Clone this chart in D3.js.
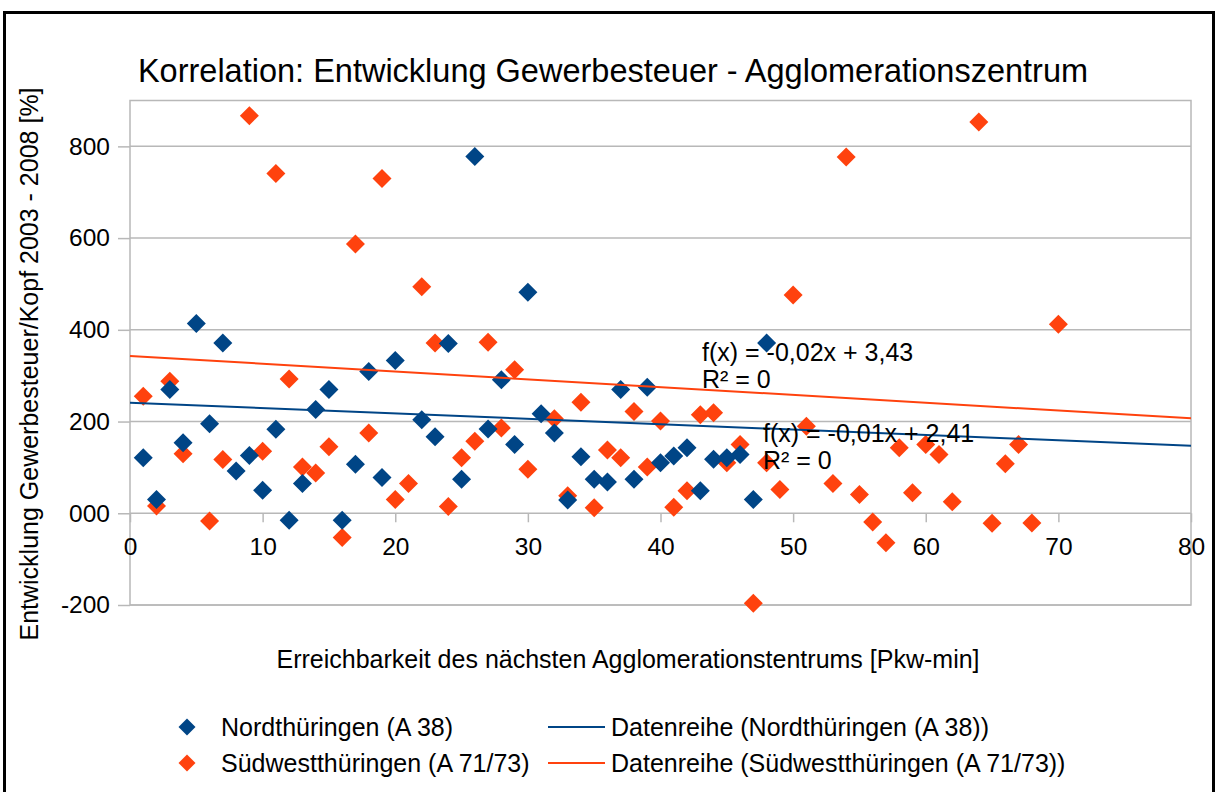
<!DOCTYPE html>
<html>
<head>
<meta charset="utf-8">
<script src="https://cdn.jsdelivr.net/npm/d3@7"></script>
<style>
  body { margin: 0; background: #fff; }
  text { font-family: "Liberation Sans", Arial, sans-serif; fill: #000; }
</style>
</head>
<body>
<div id="chart"></div>
<script>
// values
var nordX = [1,2,3,4,5,6,7,8,9,10,11,12,13,14,15,16,17,18,19,20,22,23,24,25,26,27,28,29,30,31,32,33,34,35,36,37,38,39,40,41,42,43,44,45,46,47,48]
var nordY = [121,30,270,154,414,195,371,92,126,50,183,-15,65,226,270,-15,107,309,78,333,204,167,370,74,778,184,291,150,482,217,175,29,123,74,68,270,74,275,110,125,143,49,118,121,128,30,371]

var suedX = [1,2,3,4,6,7,9,10,11,12,13,14,15,16,17,18,19,20,21,22,23,24,25,26,27,28,29,30,32,33,34,35,36,37,38,39,40,41,42,43,44,45,46,47,48,49,50,51,53,54,55,56,57,58,59,60,61,62,64,65,66,67,68,70]
var suedY = [255,16,288,130,-17,117,867,135,741,293,101,88,145,-53,587,175,730,30,65,494,371,15,121,157,373,186,313,96,206,38,242,12,138,121,222,101,201,13,49,215,219,110,150,-196,110,52,476,190,65,777,41,-19,-64,143,45,150,128,25,853,-22,108,150,-21,412]

// trend lines (intercept, slope in chart units)
var nordTrend = [241, -1.17]
var suedTrend = [343, -1.70]

var xTicks = [0,10,20,30,40,50,60,70,80]
var yTicks = [-200,0,200,400,600,800]
var yTickLabels = ['-200','000','200','400','600','800']

var seriesNames = ['Nordthüringen (A 38)', 'Südwestthüringen (A 71/73)']
var trendNames = ['Datenreihe (Nordthüringen (A 38))', 'Datenreihe (Südwestthüringen (A 71/73))']
var trendText = [['f(x) = -0,01x + 2,41', 'R² = 0'], ['f(x) = -0,02x + 3,43', 'R² = 0']]

var blue = '#004586'
var red = '#ff420e'
var grid = '#b8b8b8'

var width = 1217, height = 792
var svg = d3.select('#chart').append('svg')
  .attr('width', width).attr('height', height)

// outer black frame
svg.append('rect')
  .attr('x', 4.5).attr('y', 12.5).attr('width', 1209).attr('height', 800)
  .attr('fill', '#fff').attr('stroke', '#000').attr('stroke-width', 3)

var x = d3.scaleLinear().domain([0, 80]).range([130, 1191])
var y = d3.scaleLinear().domain([-200, 900]).range([605, 100.5])

// gridlines
svg.append('g').selectAll('line')
  .data(yTicks).enter().append('line')
  .attr('x1', x(0)).attr('x2', x(80))
  .attr('y1', d => y(d)).attr('y2', d => y(d))
  .attr('stroke', grid).attr('stroke-width', 1.5)

// plot frame
svg.append('rect')
  .attr('x', x(0)).attr('y', y(900))
  .attr('width', x(80) - x(0)).attr('height', y(-200) - y(900))
  .attr('fill', 'none').attr('stroke', grid).attr('stroke-width', 1.5)

// y axis
var yAxis = svg.append('g')
  .attr('transform', 'translate(' + x(0) + ',0)')
  .call(d3.axisLeft(y).tickValues(yTicks).tickFormat((d, i) => yTickLabels[i]).tickSize(12).tickPadding(8))
yAxis.select('.domain').remove()
yAxis.selectAll('line').attr('stroke', grid).attr('stroke-width', 1.5)
yAxis.selectAll('text').attr('font-size', 24.5).attr('font-family', '"Liberation Sans", Arial, sans-serif').attr('fill', '#000')

// x axis sits on the zero line
var xAxis = svg.append('g')
  .attr('transform', 'translate(0,' + y(0) + ')')
  .call(d3.axisBottom(x).tickValues(xTicks).tickSize(9).tickPadding(15))
xAxis.select('.domain').remove()
xAxis.selectAll('line').attr('stroke', grid).attr('stroke-width', 1.5)
xAxis.selectAll('text').attr('font-size', 24.5).attr('font-family', '"Liberation Sans", Arial, sans-serif').attr('fill', '#000')

var diamond = function (r) {
  return 'M0,' + (-r) + 'L' + r + ',0L0,' + r + 'L' + (-r) + ',0Z'
}

// points: red first, blue on top
svg.append('g').selectAll('path')
  .data(suedX.map((v, i) => [v, suedY[i]])).enter().append('path')
  .attr('d', diamond(9.5))
  .attr('transform', d => 'translate(' + x(d[0]) + ',' + y(d[1]) + ')')
  .attr('fill', red)

svg.append('g').selectAll('path')
  .data(nordX.map((v, i) => [v, nordY[i]])).enter().append('path')
  .attr('d', diamond(9.5))
  .attr('transform', d => 'translate(' + x(d[0]) + ',' + y(d[1]) + ')')
  .attr('fill', blue)

// trend lines
var line = d3.line().x(d => x(d[0])).y(d => y(d[1]))
;[[suedTrend, red], [nordTrend, blue]].forEach(function (t) {
  var c = t[0]
  svg.append('path')
    .datum([[0, c[0]], [80, c[0] + c[1] * 80]])
    .attr('d', line)
    .attr('fill', 'none').attr('stroke', t[1]).attr('stroke-width', 2)
})

// regression equations
var eqPos = [[763, 442], [702, 361]]
trendText.forEach(function (lines, k) {
  lines.forEach(function (s, j) {
    svg.append('text')
      .attr('x', eqPos[k][0]).attr('y', eqPos[k][1] + j * 27)
      .attr('font-size', 25).text(s)
  })
})

// titles
svg.append('text')
  .attr('x', 613).attr('y', 82).attr('text-anchor', 'middle')
  .attr('font-size', 32.5).text('Korrelation: Entwicklung Gewerbesteuer - Agglomerationszentrum')

svg.append('text')
  .attr('x', 628).attr('y', 668).attr('text-anchor', 'middle')
  .attr('font-size', 25).text('Erreichbarkeit des nächsten Agglomerationstentrums [Pkw-min]')

svg.append('text')
  .attr('transform', 'translate(38,364) rotate(-90)').attr('text-anchor', 'middle')
  .attr('font-size', 25).text('Entwicklung Gewerbesteuer/Kopf 2003 - 2008 [%]')

// legend
var legendY = [727, 763]
var colors = [blue, red]
seriesNames.forEach(function (name, i) {
  var g = svg.append('g').attr('transform', 'translate(0,' + legendY[i] + ')')
  g.append('path').attr('d', diamond(8.5)).attr('transform', 'translate(187,0)').attr('fill', colors[i])
  g.append('text').attr('x', 221).attr('y', 9).attr('font-size', 25).text(name)
  g.append('line').attr('x1', 548).attr('x2', 605).attr('y1', 0).attr('y2', 0)
    .attr('stroke', colors[i]).attr('stroke-width', 2)
  g.append('text').attr('x', 611).attr('y', 9).attr('font-size', 25).text(trendNames[i])
})
</script>
</body>
</html>
